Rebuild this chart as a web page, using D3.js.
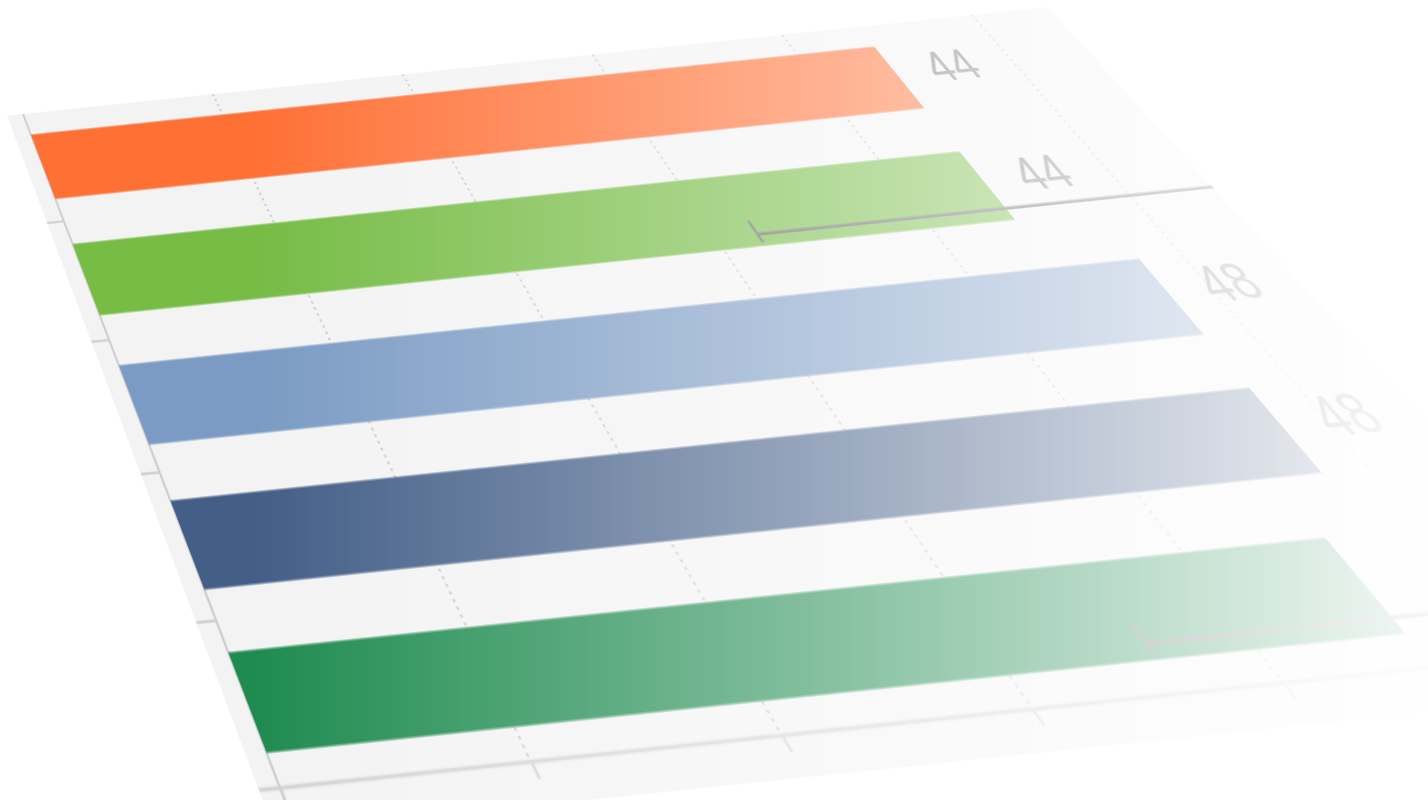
<!DOCTYPE html>
<html><head><meta charset="utf-8">
<script src="https://cdn.jsdelivr.net/npm/d3@7"></script>
<style>
html,body{margin:0;padding:0;background:#fff;}
#wrap{position:relative;width:1428px;height:800px;overflow:hidden;background:#fff;
 -webkit-mask-image:linear-gradient(to right, rgba(0,0,0,1) 0px, rgba(0,0,0,1) 255px, rgba(0,0,0,0.06) 1428px);
 mask-image:linear-gradient(to right, rgba(0,0,0,1) 0px, rgba(0,0,0,1) 255px, rgba(0,0,0,0.06) 1428px);}
#chart{position:absolute;left:0;top:0;transform-origin:0 0;overflow:visible;}
</style></head><body>
<div id="wrap"><svg id="chart"></svg></div>
<script>
// ---- data ----
const categories = ["A", "B", "C", "D", "E"];
const values = [44, 44, 48, 48, 46];
const barColors = ["#ff7035", "#76bc45", "#7b9bc4", "#435e87", "#1f8b50"];
const xTicks = [0, 10, 20, 30, 40, 50];
const markerValues = [null, 32, null, null, 36];
const labelShown = [true, true, true, true, false];

// ---- flat layout ----
const W = 1200, H = 600;
const ox = 30, oy = 10;
const V = 510;
const x = d3.scaleLinear().domain([0, 50]).range([0, 950]);
const panelRight = x(54);
const y = d3.scaleBand().domain(categories).range([0, V]).paddingInner(0.4).paddingOuter(0.2);

const svg = d3.select("#chart").attr("width", W).attr("height", H);
const g = svg.append("g").attr("transform", `translate(${ox},${oy})`);

const defs = svg.append("defs");
defs.append("clipPath").attr("id", "pclip").append("rect")
  .attr("x", -16).attr("y", 0).attr("width", panelRight + 16).attr("height", V + 24);

// panel
g.append("rect").attr("x", -16).attr("y", 0).attr("width", panelRight + 16).attr("height", V + 24)
  .attr("fill", "#f3f3f3");

// gridlines
g.append("g").selectAll("line").data(xTicks.filter(d => d > 0)).join("line")
  .attr("x1", d => x(d)).attr("x2", d => x(d)).attr("y1", 0).attr("y2", V)
  .attr("stroke", "#bdbdbd").attr("stroke-width", 1.4).attr("stroke-dasharray", "2,3");

// category boundary ticks on the left
const step = y.step();
g.append("g").selectAll("line").data(d3.range(1, categories.length)).join("line")
  .attr("x1", -16).attr("x2", 0)
  .attr("y1", d => y(categories[d]) - step * 0.2).attr("y2", d => y(categories[d]) - step * 0.2)
  .attr("stroke", "#d2d2d2").attr("stroke-width", 2);

// x axis
const xAxis = g.append("g").attr("transform", `translate(0,${V})`)
  .call(d3.axisBottom(x).tickValues(xTicks).tickSize(10).tickFormat(""));
xAxis.select(".domain").remove();
xAxis.selectAll(".tick line").attr("stroke", "#cfcfcf").attr("stroke-width", 2);
g.append("line").attr("x1", -16).attr("x2", panelRight).attr("y1", V).attr("y2", V)
  .attr("stroke", "#d4d4d4").attr("stroke-width", 2.5);
// y axis line
g.append("line").attr("x1", 0).attr("x2", 0).attr("y1", 0).attr("y2", V + 24)
  .attr("stroke", "#cfcfcf").attr("stroke-width", 2);

// bars
g.append("g").selectAll("rect").data(values).join("rect")
  .attr("x", 0).attr("y", (d, i) => y(categories[i]))
  .attr("width", d => x(d)).attr("height", y.bandwidth())
  .attr("fill", (d, i) => barColors[i]);

// markers
const mk = g.append("g").attr("clip-path", "url(#pclip)");
markerValues.forEach((m, i) => {
  if (m == null) return;
  const ly = y(categories[i]) + y.bandwidth() * 0.84;
  mk.append("line").attr("x1", x(m)).attr("x2", panelRight).attr("y1", ly).attr("y2", ly)
    .attr("stroke", "#666").attr("stroke-width", 2.5);
  mk.append("line").attr("x1", x(m)).attr("x2", x(m)).attr("y1", ly - 12).attr("y2", ly + 7)
    .attr("stroke", "#666").attr("stroke-width", 2.5);
});

// value labels
g.append("g").selectAll("text")
  .data(values.map((v, i) => ({ v, i })).filter(d => labelShown[d.i])).join("text")
  .attr("x", d => x(d.v) + 33).attr("y", d => y(categories[d.i]) + y.bandwidth() / 2 - 6)
  .attr("dy", "0.35em")
  .attr("font-family", "Liberation Sans, Arial, sans-serif").attr("font-size", 41)
  .attr("fill", "#7c7c7c").text(d => d.v);

// ---- projective mapping of the flat chart onto the tilted plane ----
function homography(src, dst) {
  const A = [], b = [];
  for (let i = 0; i < 4; i++) {
    const [sx, sy] = src[i], [dx, dy] = dst[i];
    A.push([sx, sy, 1, 0, 0, 0, -dx * sx, -dx * sy]); b.push(dx);
    A.push([0, 0, 0, sx, sy, 1, -dy * sx, -dy * sy]); b.push(dy);
  }
  const n = 8;
  for (let c = 0; c < n; c++) {
    let p = c;
    for (let r = c + 1; r < n; r++) if (Math.abs(A[r][c]) > Math.abs(A[p][c])) p = r;
    [A[c], A[p]] = [A[p], A[c]]; [b[c], b[p]] = [b[p], b[c]];
    for (let r = 0; r < n; r++) {
      if (r === c) continue;
      const f = A[r][c] / A[c][c];
      for (let k = c; k < n; k++) A[r][k] -= f * A[c][k];
      b[r] -= f * b[c];
    }
  }
  return b.map((v, i) => v / A[i][i]);
}
const src = [[ox + x(0), oy], [ox + x(50), oy], [ox + x(0), oy + V], [ox + x(40), oy + V]];
const dst = [[23, 114], [972, 15], [280, 788], [1283, 683]];
const h = homography(src, dst);
const m3 = [h[0], h[3], 0, h[6], h[1], h[4], 0, h[7], 0, 0, 1, 0, h[2], h[5], 0, 1];
d3.select("#chart").style("transform", `matrix3d(${m3.join(",")})`);
</script>
</body></html>
